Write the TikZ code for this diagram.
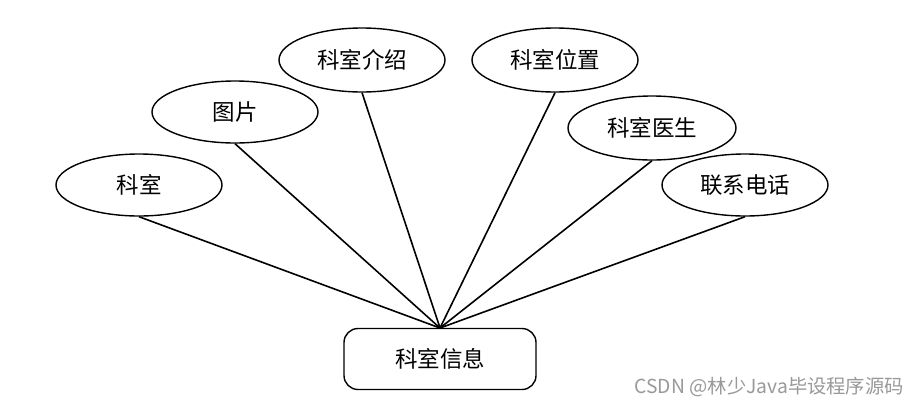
\documentclass[tikz,border=0pt]{standalone}
\usepackage{fontspec}
\usetikzlibrary{shapes.geometric}
\newfontfamily\cjk{Noto Sans CJK SC}
\begin{document}
\begin{tikzpicture}[x=1pt,y=-1pt,
  attr/.style={draw=black,line width=1.4pt,ellipse,minimum width=166pt,minimum height=62pt,inner sep=0pt,font=\cjk\fontsize{22.5}{22.5}\selectfont},
  ent/.style={draw=black,line width=1.4pt,rectangle,rounded corners=14pt,minimum width=192pt,minimum height=61pt,inner sep=0pt,font=\cjk\fontsize{22.5}{22.5}\selectfont},
  conn/.style={line width=1.6pt}]
\useasboundingbox (0,0) rectangle (917,408);
\fill[white] (0,0) rectangle (917,408);
\node[attr] (ks) at (139,185) {科室};
\node[attr] (tp) at (235,112) {图片};
\node[attr,minimum height=64pt] (js) at (362,60) {科室介绍};
\node[attr,minimum height=64pt] (wz) at (555,60) {科室位置};
\node[attr,minimum width=168pt,minimum height=64pt] (ys) at (652,128) {科室医生};
\node[attr] (dh) at (745,185) {联系电话};
\node[ent] (xx) at (440,359) {科室信息};
\coordinate (hub) at (440,328);
\foreach \n in {ks,tp,js,wz,ys,dh}{\draw[conn] (\n.south) -- (hub);}
\node[anchor=east,text=black!40,font=\cjk\fontsize{19.3}{19.3}\selectfont,inner sep=0pt] (wm) at (904,387) {CSDN @林少Java毕设程序源码};
\end{tikzpicture}
\end{document}
